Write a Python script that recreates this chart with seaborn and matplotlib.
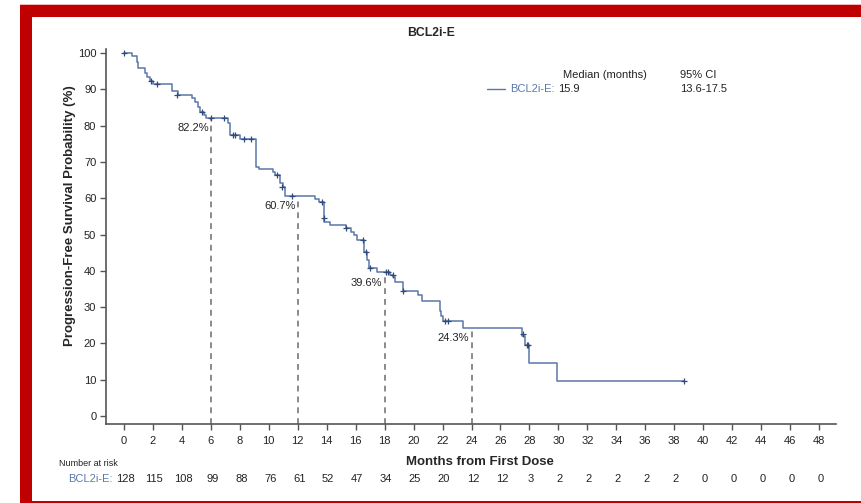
import matplotlib
matplotlib.use("Agg")
import matplotlib.pyplot as plt
import matplotlib.transforms as mtransforms
from matplotlib.patches import Rectangle
import seaborn as sns
import pandas as pd

# ---------------- data ----------------
step_time = [0, 0.57, 0.9, 1.0, 1.45, 1.6, 1.8, 2.0, 3.35, 3.7, 4.7, 4.9, 5.1, 5.25,
             5.5, 5.65, 7.2, 7.3, 8.0, 9.1, 9.35, 10.3, 10.4, 10.8, 10.95, 11.1,
             13.2, 13.5, 13.8, 14.2, 15.3, 15.7, 15.9, 16.1, 16.6, 16.75, 16.9,
             17.45, 18.4, 18.6, 18.7, 19.3, 20.3, 20.6, 21.8, 21.9, 22.05, 23.4,
             27.5, 27.7, 28.0, 29.9, 38.7]
step_surv = [100, 99.2, 97.6, 96.0, 94.5, 93.3, 92.2, 91.4, 89.6, 88.3, 87.5, 86.6,
             85.2, 83.8, 82.9, 82.2, 80.8, 77.4, 76.4, 68.6, 68.0, 67.3, 66.4, 64.1,
             63.2, 60.7, 59.8, 59.0, 53.5, 52.6, 51.7, 50.8, 49.9, 48.5, 45.3, 43.0,
             40.7, 39.6, 38.8, 38.4, 37.0, 34.5, 33.3, 31.8, 28.8, 27.5, 26.3, 24.3,
             22.0, 19.6, 14.5, 9.7, 9.7]

cens_time = [0, 1.85, 2.3, 3.68, 5.4, 6.0, 6.9, 7.5, 7.7, 8.3, 8.8, 10.6, 10.9, 11.6,
             13.7, 13.8, 15.3, 16.5, 16.7, 17.0, 18.1, 18.25, 18.55, 19.3, 22.2, 22.4,
             27.55, 27.8, 27.9, 38.7]
cens_surv = [100, 92.2, 91.4, 88.3, 83.8, 82.2, 82.2, 77.4, 77.4, 76.4, 76.4, 66.4,
             63.2, 60.7, 59.0, 54.5, 51.7, 48.5, 45.3, 40.7, 39.6, 39.6, 38.8, 34.5,
             26.3, 26.3, 22.5, 19.6, 19.6, 9.7]

landmark_months = [6, 12, 18, 24]
landmark_surv = [82.2, 60.7, 39.6, 24.3]
landmark_labels = ["82.2%", "60.7%", "39.6%", "24.3%"]

x_ticks = list(range(0, 50, 2))
y_ticks = list(range(0, 101, 10))
at_risk = [128, 115, 108, 99, 88, 76, 61, 52, 47, 34, 25, 20, 12, 12, 3,
           2, 2, 2, 2, 2, 0, 0, 0, 0, 0]

group = "BCL2i-E"
median_txt = "15.9"
ci_txt = "13.6-17.5"

# ---------------- style ----------------
sns.set_style("ticks")
plt.rcParams["font.family"] = ["Liberation Sans", "DejaVu Sans"]

line_col = "#5a76aa"
cens_col = "#2e4a7a"
text_blue = "#5b79ad"
red = "#c00000"
gray = "#555555"
fs = 8.0

W, H = 861, 503
fig = plt.figure(figsize=(W / 100, H / 100), dpi=100)
fig.patch.set_facecolor("white")

def fx(px):
    return px / W

def fy(py):
    return 1 - py / H

def rect(x0, y0, x1, y1, color):
    fig.patches.append(Rectangle((fx(x0), fy(y1)), fx(x1) - fx(x0), fy(y0) - fy(y1),
                                 transform=fig.transFigure, color=color, zorder=-5,
                                 linewidth=0))

rect(20, 3.5, 861, 5, "#f0b8b8")
rect(20, 5, 861, 503, red)
rect(32, 17, 861, 501, "white")

ax = fig.add_axes([fx(106), fy(424), fx(836) - fx(106), fy(49) - fy(424)])
ax.set_facecolor("none")
ax.set_zorder(2)

df = pd.DataFrame({"t": step_time, "s": step_surv})
sns.lineplot(data=df, x="t", y="s", ax=ax, drawstyle="steps-post", estimator=None,
             sort=False, color=line_col, linewidth=1.1, zorder=3)
dc = pd.DataFrame({"t": cens_time, "s": cens_surv})
sns.scatterplot(data=dc, x="t", y="s", ax=ax, marker="+", s=22, color=cens_col,
                linewidth=0.9, zorder=4)

ax.set_xlim(-1.24, 49.17)
ax.set_ylim(-2.2, 101.1)

for m, s, lab in zip(landmark_months, landmark_surv, landmark_labels):
    ax.plot([m, m], [-2.2, s], color="#777777", linestyle=(0, (3.5, 3.0)),
            linewidth=1.2, zorder=2)
    ax.text(m - 0.15, s - 1.5, lab, ha="right", va="top", fontsize=fs,
            color="#222222")

ax.set_xticks(x_ticks)
ax.set_yticks(y_ticks)
ax.tick_params(axis="both", labelsize=fs, colors="#222222", length=4,
               width=1, color=gray)
ax.tick_params(axis="x", pad=5)
ax.tick_params(axis="y", pad=3)
for sp in ["top", "right"]:
    ax.spines[sp].set_visible(False)
for sp in ["left", "bottom"]:
    ax.spines[sp].set_color(gray)
    ax.spines[sp].set_linewidth(1.2)
ax.set_xlabel("")
ax.set_ylabel("")

# titles / labels
fig.text(fx(431), fy(33), group, ha="center", va="center", fontsize=8.8,
         fontweight="bold")
fig.text(fx(70), fy(216), "Progression-Free Survival Probability (%)", rotation=90,
         ha="center", va="center", fontsize=9.5, fontweight="bold")
fig.text(fx(480), fy(462), "Months from First Dose", ha="center", va="center",
         fontsize=9.5, fontweight="bold")

# number at risk
fig.text(fx(59), fy(464), "Number at risk", ha="left", va="center", fontsize=6.5,
         color="#222222")
fig.text(fx(113), fy(479), group + ":", ha="right", va="center", fontsize=fs,
         color=text_blue)
trans = mtransforms.blended_transform_factory(ax.transData, fig.transFigure)
for t, n in zip(x_ticks, at_risk):
    ax.text(t + 0.1, fy(479), str(n), transform=trans, ha="center", va="center",
            fontsize=fs, color="#222222", clip_on=False)

# legend block
fig.lines.append(plt.Line2D([fx(487), fx(505)], [fy(89), fy(89)],
                            transform=fig.transFigure, color=line_col, linewidth=1.0))
fig.text(fx(510), fy(89), group + ":", ha="left", va="center", fontsize=fs,
         color=text_blue)
fig.text(fx(558), fy(89), median_txt, ha="left", va="center", fontsize=fs,
         color="#222222")
fig.text(fx(563), fy(75), "Median (months)", ha="left", va="center", fontsize=fs,
         color="#222222")
fig.text(fx(680), fy(75), "95% CI", ha="left", va="center", fontsize=fs,
         color="#222222")
fig.text(fx(680), fy(89), ci_txt, ha="left", va="center", fontsize=fs,
         color="#222222")

fig.savefig("out.png", dpi=100)
